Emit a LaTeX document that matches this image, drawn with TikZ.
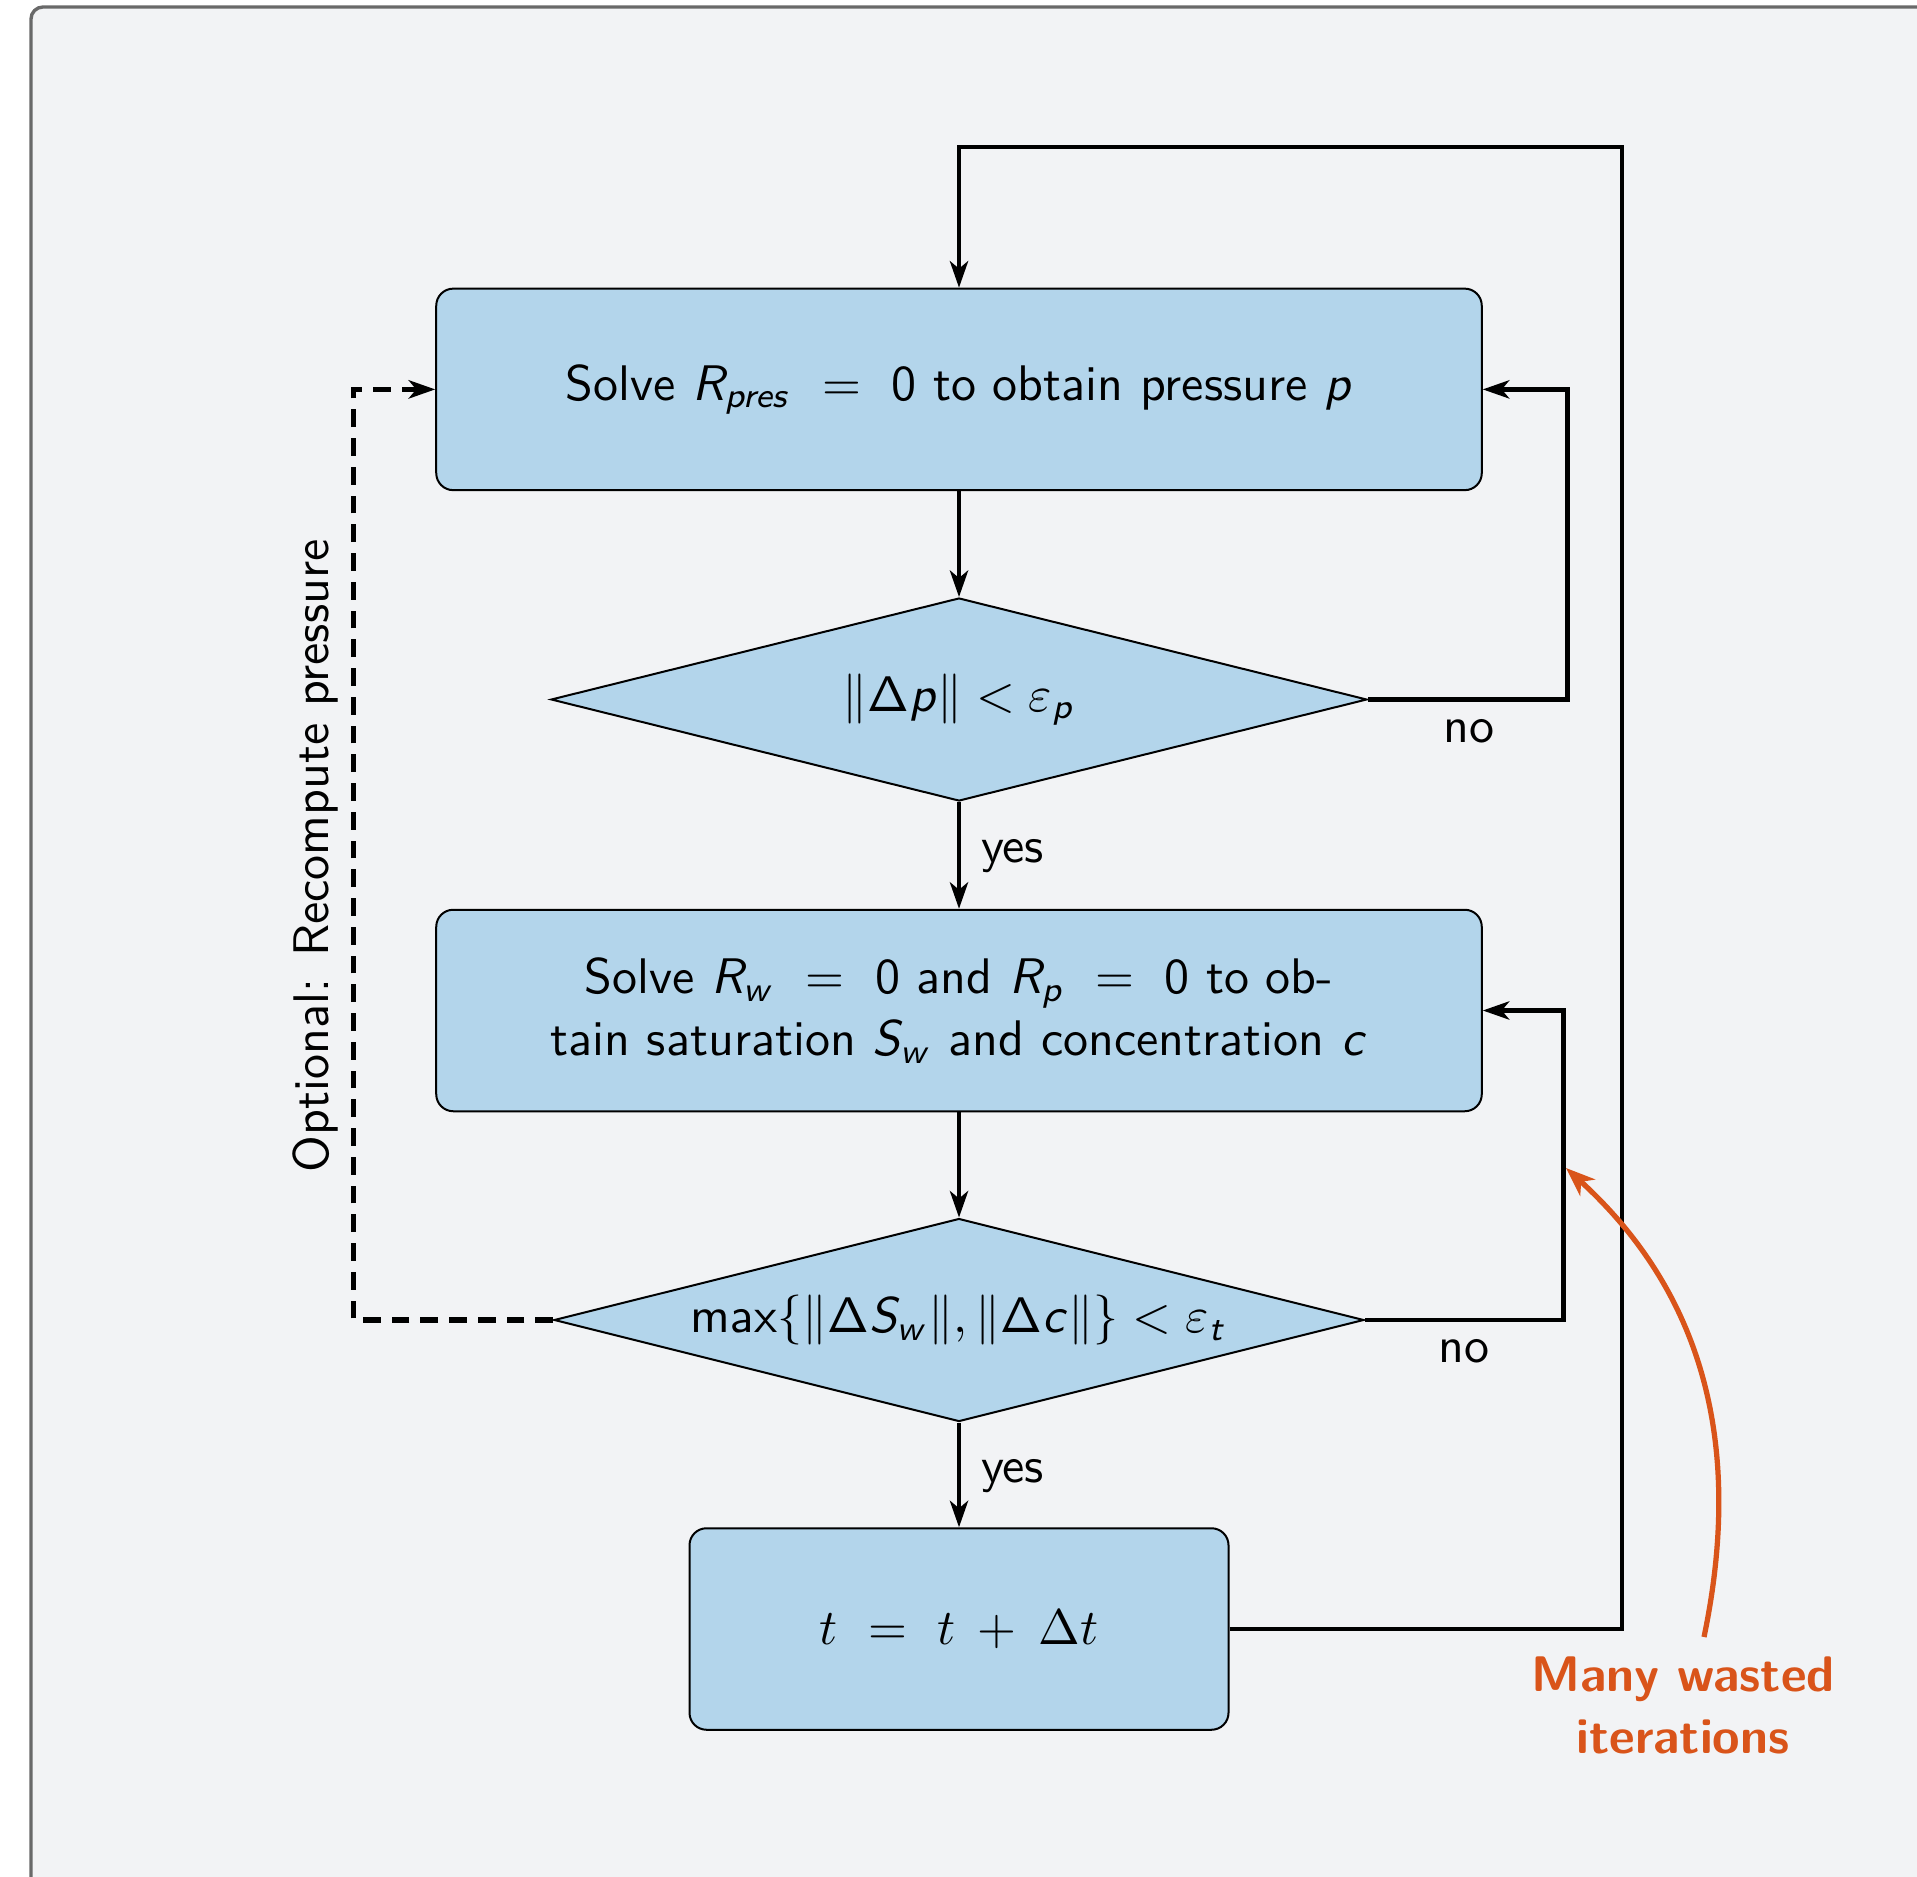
\documentclass[tikz,border=0pt]{standalone}
\usetikzlibrary{shapes.geometric,arrows.meta}
\renewcommand{\familydefault}{\sfdefault}
\DeclareMathAlphabet{\mathsfit}{OT1}{cmss}{m}{sl}
\definecolor{boxblue}{RGB}{179,213,235}
\definecolor{bgframe}{RGB}{242,243,245}
\definecolor{framegray}{RGB}{105,105,105}
\definecolor{warnorange}{RGB}{217,84,26}
\begin{document}
\begin{tikzpicture}[x=0.2pt,y=-0.2pt,
  procbox/.style={draw=black, line width=0.4pt, fill=boxblue, rounded corners=3.4pt,
    minimum width=209.1pt, minimum height=40.3pt, inner sep=0pt, align=center},
  decbox/.style={draw=black, line width=0.4pt, fill=boxblue, shape=diamond, shape aspect=4,
    minimum height=40.6pt, inner sep=0pt},
  conn/.style={line width=0.85pt, -{Stealth[length=5.3pt,width=3.65pt,inset=1.5pt]}},
  dashconn/.style={line width=1.05pt, dash pattern=on 3.55pt off 2.2pt,
    -{Stealth[length=5.3pt,width=3.65pt,inset=1.5pt]}},
  lbl/.style={inner sep=0pt},
  warnarrow/.style={warnorange, line width=1.05pt, -{Stealth[length=5.8pt,width=4.4pt,inset=1.7pt]}}
]
\useasboundingbox (0,0) rectangle (1917,1877);
\clip (0,0) rectangle (1917,1877);
\fill[white] (0,0) rectangle (1917,1877);
\draw[framegray, line width=0.67pt, fill=bgframe, rounded corners=2.4pt] (31,7) rectangle (2000,2000);

\node[procbox] (solvep) at (959,389.4)
  {Solve $\mathsfit{R}_{\mathsfit{pres}}\ =\ \mathsf{0}$ to obtain pressure $\mathsfit{p}$};
\node[decbox, minimum width=163.2pt] (chkp) at (959,699.5)
  {$\|\mathsf{\Delta}\mathsfit{p}\| < \varepsilon_{\mathsfit{p}}$};
\node[procbox] (solves) at (959,1010.5)
  {Solve $\mathsfit{R}_{\mathsfit{w}}\ =\ \mathsf{0}$ and $\mathsfit{R}_{\mathsfit{p}}\ =\ \mathsf{0}$ to ob-\\[0.4pt]tain saturation $\mathsfit{S}_{\mathsfit{w}}$ and concentration $\mathsfit{c}$};
\node[decbox, minimum width=161.95pt] (chkt) at (959,1320)
  {$\mathsf{max}\{\|\mathsf{\Delta}\mathsfit{S}_{\mathsfit{w}}\|, \|\mathsf{\Delta}\mathsfit{c}\|\} < \varepsilon_{\mathsfit{t}}$};
\node[procbox, minimum width=107.8pt] (tstep) at (959,1629)
  {$t\ =\ t\mskip8mu{+}\mskip8mu\Delta t$};

\node[lbl, anchor=base west] (yes1) at (980,862) {yes};
\node[lbl, anchor=base west] (yes2) at (980,1482) {yes};
\node[lbl, anchor=base] (no1) at (1469,742) {no};
\node[lbl, anchor=base] (no2) at (1464,1362) {no};
\node[lbl, rotate=90, anchor=base] (optlbl) at (328,856) {Optional: Recompute pressure};
\node[lbl, warnorange, font=\bfseries, align=center] (wastelbl) at (1683,1705) {Many wasted\\[0.4pt]iterations};

\coordinate (looptop) at (1622,147);
\coordinate (wstart) at (1704,1637);
\coordinate (wend) at (1566,1168);

\draw[conn] (solvep.south) -- (chkp.north);
\draw[conn] (chkp.south) -- (solves.north);
\draw[conn] (solves.south) -- (chkt.north);
\draw[conn] (chkt.south) -- (tstep.north);
\draw[conn] (chkp.east) -- ++(199.5,0) |- (solvep.east);
\draw[conn] (chkt.east) -- ++(198.6,0) |- (solves.east);
\draw[conn] (tstep.east) -| (looptop) -| (solvep.north);
\draw[dashconn] (chkt.west) -- ++(-199.6,0) |- (solvep.west);
\draw[warnarrow] (wstart) .. controls (1745,1440) and (1700,1290) .. (wend);
\end{tikzpicture}
\end{document}
